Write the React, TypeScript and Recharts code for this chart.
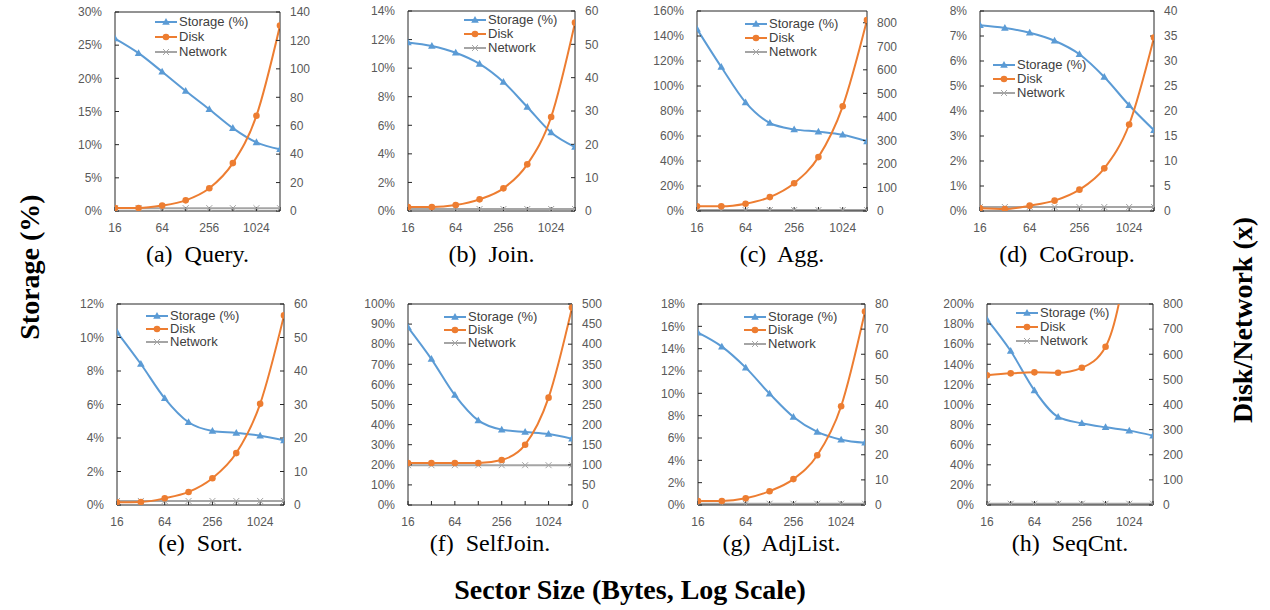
import React from 'react';
import { LineChart, Line, XAxis, YAxis, ReferenceLine } from 'recharts';

// sector sizes (bytes), x axis is log scale
const SIZES = [16, 32, 64, 128, 256, 512, 1024, 2048];
const X_LABELS = [16, 64, 256, 1024];

// storage in %, disk / network as factor (x)
const queryStorage = [26, 23.8, 21, 18.1, 15.35, 12.5, 10.35, 9.3];
const queryDisk = [2.1, 2.1, 3.8, 7.5, 16, 33.7, 67, 130.5];
const queryNetwork = [2, 2, 2, 2, 2, 2, 2, 2];

const joinStorage = [11.8, 11.55, 11.08, 10.3, 9.03, 7.28, 5.5, 4.48];
const joinDisk = [1.2, 1.2, 1.8, 3.5, 6.8, 14, 28.2, 56.5];
const joinNetwork = [0.6, 0.6, 0.6, 0.6, 0.6, 0.6, 0.6, 0.6];

const aggStorage = [145.6, 115.2, 86.9, 70.4, 65.3, 63.5, 61, 55.7];
const aggDisk = [20, 20, 31, 59, 118, 229, 445, 812];
const aggNetwork = [4, 4, 4, 4, 4, 4, 4, 4];

const cogroupStorage = [7.43, 7.32, 7.13, 6.81, 6.27, 5.36, 4.23, 3.23];
const cogroupDisk = [0.55, 0.4, 1.07, 2.07, 4.27, 8.53, 17.3, 34.7];
const cogroupNetwork = [0.8, 0.8, 0.8, 0.8, 0.8, 0.8, 0.8, 0.8];

const sortStorage = [10.33, 8.42, 6.37, 4.94, 4.42, 4.3, 4.14, 3.86];
const sortDisk = [0.8, 0.9, 2, 3.9, 8, 15.5, 30.2, 56.6];
const sortNetwork = [1.2, 1.2, 1.2, 1.2, 1.2, 1.2, 1.2, 1.2];

const selfjoinStorage = [88.4, 72.6, 54.7, 42.1, 37.5, 36.3, 35.3, 33];
const selfjoinDisk = [104.5, 104.5, 104.5, 104.5, 112, 150, 267, 491];
const selfjoinNetwork = [99, 99, 99, 99, 99, 99, 99, 99];

const adjlistStorage = [15.43, 14.18, 12.3, 9.97, 7.88, 6.54, 5.85, 5.58];
const adjlistDisk = [1.6, 1.6, 2.65, 5.5, 10.3, 19.8, 39.3, 77];
const adjlistNetwork = [0.5, 0.5, 0.5, 0.5, 0.5, 0.5, 0.5, 0.5];

const seqcntStorage = [184.7, 153.2, 114, 87.6, 81.3, 77.3, 74, 69];
const seqcntDisk = [516, 524, 528, 526.5, 546, 630, 1050, 2000];
const seqcntNetwork = [5, 5, 5, 5, 5, 5, 5, 5];

const BLUE = '#5B9BD5';
const ORANGE = '#ED7D31';
const GRAY = '#A5A5A5';
const AXIS = '#262626';
const TICK_FONT = { fontFamily: 'Liberation Sans, Arial, sans-serif', fontSize: 12, fill: '#595959' };

const range = (max: number, step: number) => {
  const out: number[] = [];
  for (let v = 0; v <= max + 1e-9; v += step) out.push(v);
  return out;
};

const panels = [
  { caption: '(a)', name: 'Query.', storage: queryStorage, disk: queryDisk, network: queryNetwork,
    sMax: 30, sStep: 5, dMax: 140, dStep: 20, dTop: 140, box: [115, 12, 280, 211], legend: [155, 22, 15], capY: 254 },
  { caption: '(b)', name: 'Join.', storage: joinStorage, disk: joinDisk, network: joinNetwork,
    sMax: 14, sStep: 2, dMax: 60, dStep: 10, dTop: 60, box: [408, 11, 575, 211], legend: [464, 21, 14], capY: 254 },
  { caption: '(c)', name: 'Agg.', storage: aggStorage, disk: aggDisk, network: aggNetwork,
    sMax: 160, sStep: 20, dMax: 850, dStep: 100, dTop: 800, box: [697, 11, 867, 211], legend: [745, 25, 14], capY: 254 },
  { caption: '(d)', name: 'CoGroup.', storage: cogroupStorage, disk: cogroupDisk, network: cogroupNetwork,
    sMax: 8, sStep: 1, dMax: 40, dStep: 5, dTop: 40, box: [980, 11, 1154, 211], legend: [993, 66, 14], capY: 254 },
  { caption: '(e)', name: 'Sort.', storage: sortStorage, disk: sortDisk, network: sortNetwork,
    sMax: 12, sStep: 2, dMax: 60, dStep: 10, dTop: 60, box: [117, 304, 284, 505], legend: [146, 317, 13], capY: 543 },
  { caption: '(f)', name: 'SelfJoin.', storage: selfjoinStorage, disk: selfjoinDisk, network: selfjoinNetwork,
    sMax: 100, sStep: 10, dMax: 500, dStep: 50, dTop: 500, box: [408, 304, 572, 505], legend: [444, 318, 13], capY: 543 },
  { caption: '(g)', name: 'AdjList.', storage: adjlistStorage, disk: adjlistDisk, network: adjlistNetwork,
    sMax: 18, sStep: 2, dMax: 80, dStep: 10, dTop: 80, box: [698, 304, 865, 505], legend: [744, 318, 13.5], capY: 543 },
  { caption: '(h)', name: 'SeqCnt.', storage: seqcntStorage, disk: seqcntDisk, network: seqcntNetwork,
    sMax: 200, sStep: 20, dMax: 800, dStep: 100, dTop: 800, box: [987, 304, 1153, 505], legend: [1016, 314, 14], capY: 543 },
];

const TriangleDot = (props: any) => {
  const { cx, cy } = props;
  if (cx == null || cy == null) return null;
  return <path d={`M${cx},${cy - 4} L${cx + 3.8},${cy + 2.8} L${cx - 3.8},${cy + 2.8} Z`} fill={BLUE} />;
};

const CircleDot = (props: any) => {
  const { cx, cy } = props;
  if (cx == null || cy == null) return null;
  return <circle cx={cx} cy={cy} r={3.3} fill={ORANGE} />;
};

const CrossDot = (props: any) => {
  const { cx, cy } = props;
  if (cx == null || cy == null) return null;
  const s = 3;
  return (
    <g stroke={GRAY} strokeWidth={1}>
      <line x1={cx - s} y1={cy - s} x2={cx + s} y2={cy + s} />
      <line x1={cx - s} y1={cy + s} x2={cx + s} y2={cy - s} />
    </g>
  );
};

const legendItems = [
  { label: 'Storage (%)', color: BLUE, Dot: TriangleDot },
  { label: 'Disk', color: ORANGE, Dot: CircleDot },
  { label: 'Network', color: GRAY, Dot: CrossDot },
];

const PanelLegend = ({ x, y, gap }: { x: number; y: number; gap: number }) => (
  <div style={{ position: 'absolute', left: x, top: y - 8 }}>
    {legendItems.map((it) => (
      <div key={it.label} style={{ display: 'flex', alignItems: 'center', height: gap }}>
        <svg width={23} height={10} style={{ overflow: 'visible' }}>
          <line x1={0} y1={5} x2={22} y2={5} stroke={it.color} strokeWidth={2} />
          <it.Dot cx={11} cy={5} />
        </svg>
        <span style={{ fontFamily: 'Liberation Sans, Arial, sans-serif', fontSize: 13, color: '#404040', marginLeft: 1, lineHeight: '14px' }}>
          {it.label}
        </span>
      </div>
    ))}
  </div>
);

const YL = 50;
const YR = 40;
const MT = 8;
const XH = 30;

const Panel = ({ p }: { p: (typeof panels)[number] }) => {
  const [L, T, R, B] = p.box;
  const data = SIZES.map((size, i) => ({
    size,
    storage: p.storage[i],
    disk: p.disk[i],
    network: p.network[i],
  }));
  const w = R - L + YL + YR;
  const h = B - T + MT + XH;
  return (
    <>
      <div style={{ position: 'absolute', left: L - YL, top: T - MT }}>
        <LineChart width={w} height={h} data={data} margin={{ top: MT, right: 0, bottom: 0, left: 0 }}>
          <XAxis
            dataKey="size"
            type="number"
            scale="log"
            domain={[16, 2048]}
            ticks={SIZES}
            interval={0}
            tickFormatter={(v: number) => (X_LABELS.includes(v) ? String(v) : '')}
            height={XH}
            tickSize={-4}
            tickMargin={16}
            tick={TICK_FONT}
            stroke={AXIS}
            allowDataOverflow
          />
          <YAxis
            yAxisId="s"
            orientation="left"
            width={YL}
            domain={[0, p.sMax]}
            ticks={range(p.sMax, p.sStep)}
            interval={0}
            tickFormatter={(v: number) => `${v}%`}
            tickSize={-4}
            tickMargin={17}
            tick={TICK_FONT}
            stroke={AXIS}
            allowDataOverflow
          />
          <YAxis
            yAxisId="d"
            orientation="right"
            width={YR}
            domain={[0, p.dMax]}
            ticks={range(p.dTop, p.dStep)}
            interval={0}
            tickSize={-4}
            tickMargin={14}
            tick={TICK_FONT}
            stroke={AXIS}
            allowDataOverflow
          />
          <ReferenceLine yAxisId="s" y={p.sMax} stroke={AXIS} />
          <Line yAxisId="d" dataKey="network" type="monotone" stroke={GRAY} strokeWidth={2} dot={<CrossDot />} isAnimationActive={false} />
          <Line yAxisId="s" dataKey="storage" type="monotone" stroke={BLUE} strokeWidth={2} dot={<TriangleDot />} isAnimationActive={false} />
          <Line yAxisId="d" dataKey="disk" type="monotone" stroke={ORANGE} strokeWidth={2} dot={<CircleDot />} isAnimationActive={false} />
        </LineChart>
      </div>
      <PanelLegend x={p.legend[0]} y={p.legend[1]} gap={p.legend[2]} />
      <div
        style={{
          position: 'absolute',
          left: (L + R) / 2 - 100,
          width: 200,
          top: p.capY,
          transform: 'translateY(-50%)',
          textAlign: 'center',
          fontFamily: 'Liberation Serif, Times New Roman, serif',
          fontSize: 24,
          lineHeight: '26px',
          color: '#000',
          whiteSpace: 'pre',
        }}
      >
        {`${p.caption}  ${p.name}`}
      </div>
    </>
  );
};

export default function App() {
  const bold = { fontFamily: 'Liberation Serif, Times New Roman, serif', fontWeight: 'bold' as const, fontSize: 28, lineHeight: '30px', color: '#000', whiteSpace: 'nowrap' as const };
  return (
    <div style={{ position: 'absolute', left: 0, top: 0, width: 1270, height: 610, background: '#fff', overflow: 'hidden' }}>
      {panels.map((p) => (
        <Panel key={p.caption} p={p} />
      ))}
      <div style={{ ...bold, position: 'absolute', left: 30, top: 267, transform: 'translate(-50%, -50%) rotate(-90deg)' }}>
        Storage (%)
      </div>
      <div style={{ ...bold, position: 'absolute', left: 1243, top: 320, transform: 'translate(-50%, -50%) rotate(-90deg)' }}>
        Disk/Network (x)
      </div>
      <div style={{ ...bold, position: 'absolute', left: 0, width: 1260, top: 590, transform: 'translateY(-50%)', textAlign: 'center' }}>
        Sector Size (Bytes, Log Scale)
      </div>
    </div>
  );
}
